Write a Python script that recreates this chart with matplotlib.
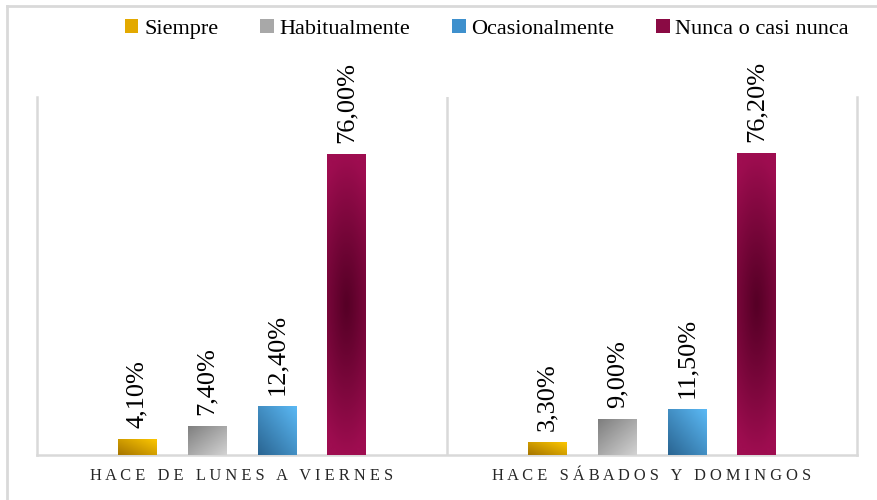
import numpy as np
import matplotlib
matplotlib.use("Agg")
import matplotlib.pyplot as plt
from matplotlib.lines import Line2D
from matplotlib.patches import Patch
from matplotlib.colors import to_rgb

# ---- data ----
categories = ["HACE DE LUNES A VIERNES", "HACE SÁBADOS Y DOMINGOS"]
series = ["Siempre", "Habitualmente", "Ocasionalmente", "Nunca o casi nunca"]
siempre = [4.1, 3.3]
habitualmente = [7.4, 9.0]
ocasionalmente = [12.4, 11.5]
nunca = [76.0, 76.2]
values = [siempre, habitualmente, ocasionalmente, nunca]

# gradient colours (dark, light) and gradient kind
grad_dark = ["#a67500", "#7e7e7e", "#2a6592", "#560026"]
grad_light = ["#ffc900", "#d2d2d2", "#5bb9f5", "#9e0d50"]
grad_kind = ["bl_tr", "tl_br", "bl_tr", "center"]
legend_cols = ["#e3a900", "#a8a8a8", "#3e90cd", "#8a0a44"]

plt.rcParams["font.family"] = ["Liberation Serif", "DejaVu Serif"]

fig = plt.figure(figsize=(8.77, 5.0), dpi=100)
ax = fig.add_axes([37 / 877, 45 / 500, 820 / 877, 358 / 500])

n = len(series)
spacing = 0.170
width = 0.093
offsets = (np.arange(n) - (n - 1) / 2) * spacing
xc = np.arange(len(categories)) + 0.5


def gradient_array(kind, c0, c1, h=64, w=32):
    u = np.linspace(0, 1, w)[None, :]
    v = np.linspace(0, 1, h)[:, None]  # 0 bottom (origin lower)
    if kind == "bl_tr":
        t = (u + v) / 2
    elif kind == "tl_br":
        t = (u + (1 - v)) / 2
    else:
        t = np.sqrt(((u - 0.5) / 0.5) ** 2 * 0.25 + ((v - 0.5) / 0.5) ** 2)
        t = np.clip(t, 0, 1) ** 1.1
    a = np.array(to_rgb(c0))
    b = np.array(to_rgb(c1))
    return a[None, None, :] + (b - a)[None, None, :] * t[..., None]


for i in range(n):
    bars = ax.bar(xc + offsets[i], values[i], width, color=legend_cols[i],
                  zorder=2, linewidth=0)
    for bar, val in zip(bars, values[i]):
        x0, w0, h0 = bar.get_x(), bar.get_width(), bar.get_height()
        img = ax.imshow(gradient_array(grad_kind[i], grad_dark[i], grad_light[i]),
                        extent=[x0, x0 + w0, 0, h0], origin="lower",
                        aspect="auto", zorder=3, interpolation="bilinear")
        img.set_clip_path(bar)
        ax.annotate(f"{val:.2f}%".replace(".", ","), (x0 + w0 / 2, h0),
                    xytext=(0, 8), textcoords="offset points",
                    rotation=90, ha="center", va="bottom", fontsize=19,
                    color="black", annotation_clip=False)

ax.set_xlim(0, 2)
ax.set_ylim(0, 90.4)
ax.axvline(1, color="#d9d9d9", lw=1.8, zorder=1)

for s in ["left", "right", "bottom"]:
    ax.spines[s].set_color("#d9d9d9")
    ax.spines[s].set_linewidth(1.8)
ax.spines["top"].set_visible(False)
ax.set_yticks([])


def spaced(s):
    return "   ".join(" ".join(w) for w in s.split(" "))


ax.set_xticks(xc)
ax.set_xticklabels([spaced(c) for c in categories], fontsize=11.8, color="#262626")
ax.tick_params(axis="x", length=0, pad=9)

handles = [Patch(facecolor=c, edgecolor="none") for c in legend_cols]
fig.legend(handles, series, loc="center", bbox_to_anchor=(487 / 877, 1 - 29 / 500),
           ncol=4, frameon=False, fontsize=16, handlelength=0.6, handleheight=0.6,
           handletextpad=0.25, columnspacing=1.9, borderpad=0)

# outer frame lines
fig.add_artist(Line2D([7 / 877, 7 / 877], [0, 1 - 5.5 / 500], color="#d9d9d9", lw=2,
                      transform=fig.transFigure))
fig.add_artist(Line2D([7 / 877, 1], [1 - 5.5 / 500, 1 - 5.5 / 500], color="#d9d9d9", lw=2,
                      transform=fig.transFigure))

fig.savefig("out.png", dpi=100)
